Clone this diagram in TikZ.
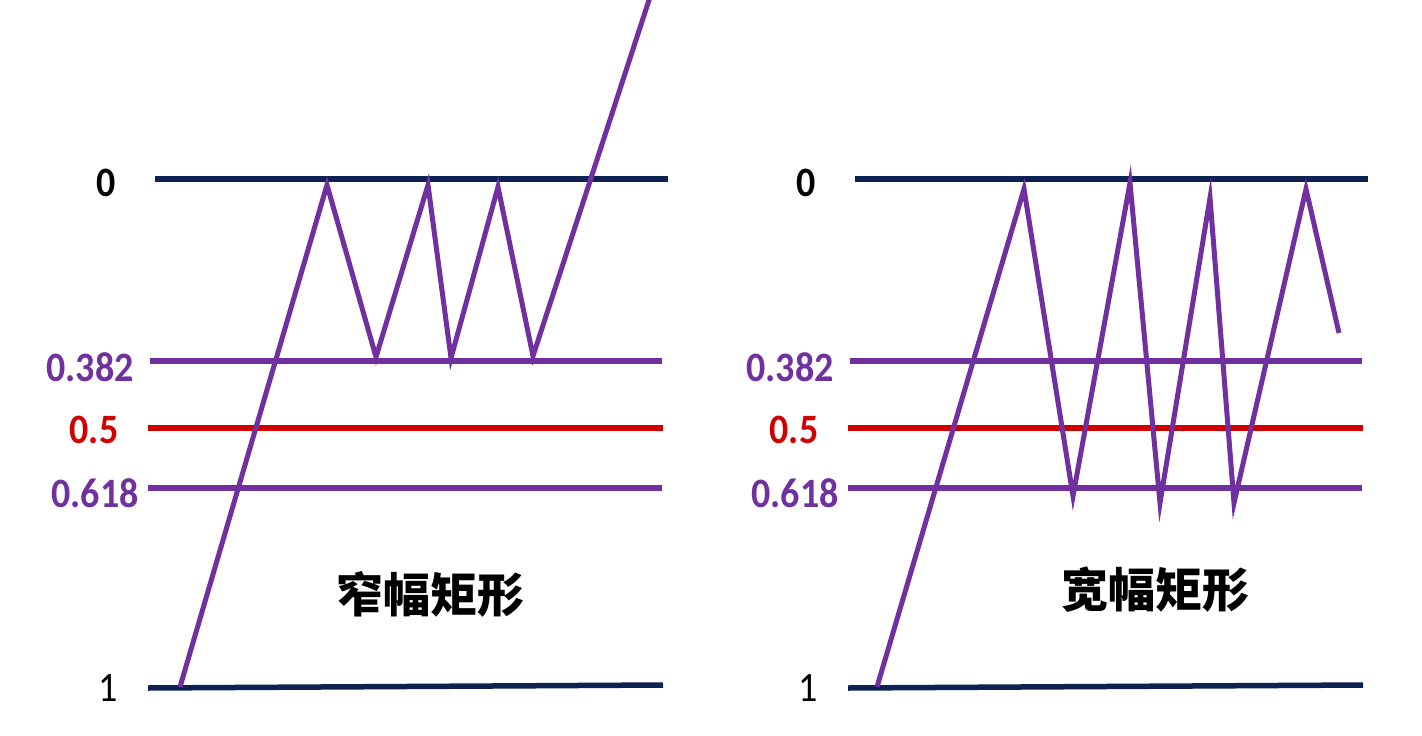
\documentclass[tikz,border=0pt]{standalone}
\usepackage{fontspec}
\setmainfont{Carlito}
\newfontfamily\cjk{Noto Sans CJK SC}
\usepackage{tikz}

\definecolor{levnavy}{HTML}{0D2252}
\definecolor{levpurple}{HTML}{7030A0}
\definecolor{levred}{HTML}{D00000}

\tikzset{
  level/.style={line width=5.5pt},
  zig/.style={line width=5pt,levpurple},
  lab/.style={font=\fontsize{38}{38}\selectfont\bfseries,inner sep=0pt},
  title/.style={font=\cjk\fontsize{47}{47}\selectfont\bfseries,inner sep=0pt}
}

\begin{document}
\begin{tikzpicture}[x=1pt,y=-1pt]
			\useasboundingbox[fill=white] (0,0) rectangle (1422,736);
			% both panels share the level lines and labels
			\foreach \dx/\nm in {0/L,700/R}{
				\begin{scope}[xshift=\dx pt]
					\draw[level,levnavy] (155,179) -- (668,179);
					\draw[level,levpurple] (150,361) -- (662,361);
					\draw[level,levred] (148,428) -- (663,428);
					\draw[level,levpurple] (148,488) -- (662,488);
					\draw[level,levnavy] (148,688) -- (663,685);
					\node[lab,yscale=1.1] (zero\nm) at (106,183) {0};
					\node[lab,text=levpurple,yscale=1.1] (a\nm) at (90,367) {0.382};
					\node[lab,text=levred,yscale=1.1] (b\nm) at (94,430) {0.5};
					\node[lab,text=levpurple,yscale=1.1] (c\nm) at (95,493) {0.618};
					\node[lab,font=\fontsize{38}{38}\selectfont,yscale=1.1] (one\nm) at (108,688) {1};
				\end{scope}
			}
			% narrow range, then breakout
			\draw[zig] (180,687) -- (327,185) -- (376,357) -- (428,185) -- (451,358) -- (498,187) -- (533,356) -- (650,-3);
			% wide range
			\draw[zig] (877,687) -- (1024,189) -- (1073,496) -- (1130,183) -- (1160,503) -- (1210,198) -- (1234,503) -- (1306,189) -- (1339,333);
			\node[title] (narrow) at (430,594) {窄幅矩形};
			\node[title] (wide) at (1155,590) {宽幅矩形};
		\end{tikzpicture}
\end{document}
